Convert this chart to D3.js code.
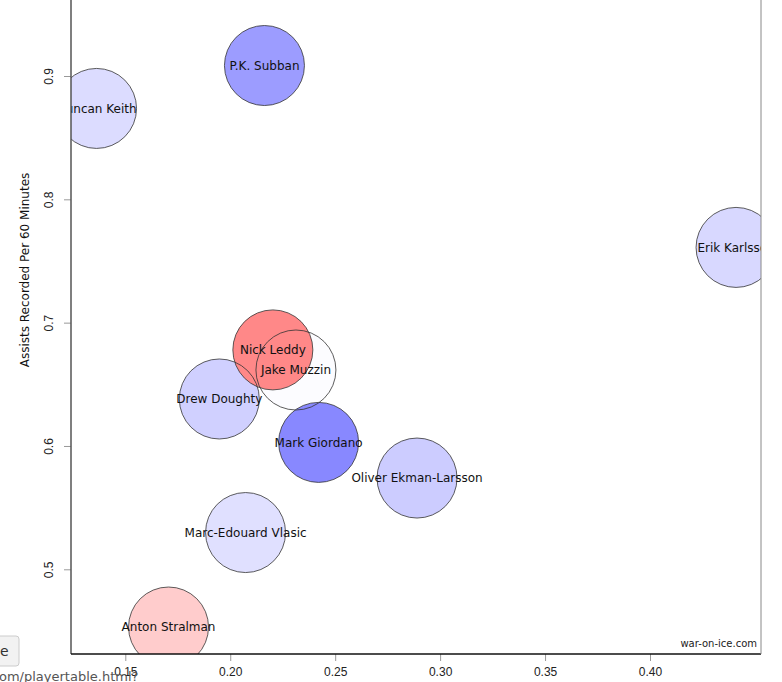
<!DOCTYPE html>
<html lang="en">
<head>
    <meta charset="UTF-8">
    <title>Assists per 60 bubble chart</title>
    <script src="https://d3js.org/d3.v7.min.js"></script>
    <style>
        body { margin: 0; background: #fff; }
        svg { display: block; font-family: "DejaVu Sans", sans-serif; }
        .tick text { font-size: 12px; fill: #222; }
        .tick line { stroke: #999; }
        .label { font-size: 12px; fill: #111; }
    </style>
</head>
<body>
    <svg width="782" height="682"></svg>
    <script>
        const width = 782, height = 682;

        // players, x values (unlabelled x metric), assists per 60 and bubble colours
        const players = ["Duncan Keith", "P.K. Subban", "Erik Karlsson", "Jake Muzzin", "Drew Doughty",
                         "Nick Leddy", "Mark Giordano", "Oliver Ekman-Larsson", "Marc-Edouard Vlasic", "Anton Stralman"];
        const xValues = [0.1363, 0.2163, 0.4410, 0.2313, 0.1948, 0.2203, 0.2421, 0.2890, 0.2073, 0.1706];
        const assists60 = [0.8737, 0.9085, 0.7610, 0.6616, 0.6381, 0.6779, 0.6029, 0.5740, 0.5298, 0.4532];
        const fills = ["#dcdcff", "#9c9cff", "#d8d8ff", "#fcfcff", "#d0d0ff",
                       "#ff8888", "#8888ff", "#ccccff", "#e0e0ff", "#ffcccc"];
        const xTicks = [0.15, 0.20, 0.25, 0.30, 0.35, 0.40];
        const yTicks = [0.5, 0.6, 0.7, 0.8, 0.9];

        const data = players.map((name, i) => ({ name, x: xValues[i], y: assists60[i], fill: fills[i] }));

        const plotLeft = 71, plotRight = 761, plotBottom = 654, plotTop = 0;
        const svg = d3.select("svg");

        const x = d3.scaleLinear().domain([0.15, 0.40]).range([125.3, 650]);
        const y = d3.scaleLinear().domain([0.5, 0.9]).range([569.3, 76]);
        const r = 40;

        svg.append("clipPath").attr("id", "plot")
            .append("rect").attr("x", plotLeft).attr("y", plotTop)
            .attr("width", plotRight - plotLeft).attr("height", plotBottom - plotTop);

        const plot = svg.append("g").attr("clip-path", "url(#plot)");

        // fills first, then outlines and names on top (as in the original)
        plot.append("g").selectAll("circle").data(data).enter().append("circle")
            .attr("cx", d => x(d.x)).attr("cy", d => y(d.y)).attr("r", r)
            .attr("fill", d => d.fill);
        plot.append("g").selectAll("circle").data(data).enter().append("circle")
            .attr("cx", d => x(d.x)).attr("cy", d => y(d.y)).attr("r", r)
            .attr("fill", "none").attr("stroke", "#333").attr("stroke-width", 0.8);
        plot.append("g").selectAll("text").data(data).enter().append("text")
            .attr("class", "label")
            .attr("x", d => x(d.x)).attr("y", d => y(d.y))
            .attr("dy", "0.35em").attr("text-anchor", "middle")
            .text(d => d.name);

        // axes
        const xAxis = d3.axisBottom(x).tickValues(xTicks).tickSize(7).tickPadding(6).tickFormat(d3.format(".2f"));
        const gx = svg.append("g").attr("transform", `translate(0,${plotBottom})`).call(xAxis);
        gx.select(".domain").remove();

        const yAxis = d3.axisLeft(y).tickValues(yTicks).tickSize(7).tickFormat(d3.format(".1f"));
        const gy = svg.append("g").attr("transform", `translate(${plotLeft},0)`).call(yAxis);
        gy.select(".domain").remove();
        gy.selectAll(".tick text")
            .attr("x", null).attr("y", 0).attr("dy", "0.35em")
            .attr("text-anchor", "middle")
            .attr("transform", "translate(-22,0) rotate(-90)");

        svg.append("line").attr("x1", plotLeft).attr("x2", plotLeft).attr("y1", plotTop).attr("y2", plotBottom)
            .attr("stroke", "#555").attr("stroke-width", 1.5);
        svg.append("line").attr("x1", plotLeft).attr("x2", plotRight).attr("y1", plotBottom).attr("y2", plotBottom)
            .attr("stroke", "#111").attr("stroke-width", 1.5);
        svg.append("line").attr("x1", plotRight).attr("x2", plotRight).attr("y1", plotTop).attr("y2", plotBottom)
            .attr("stroke", "#888").attr("stroke-width", 1);

        svg.append("text")
            .attr("transform", `translate(25,270) rotate(-90)`)
            .attr("text-anchor", "middle").attr("dy", "0.35em")
            .style("font-size", "12px").style("fill", "#111")
            .text("Assists Recorded Per 60 Minutes");

        svg.append("text")
            .attr("x", 757).attr("y", 647).attr("text-anchor", "end")
            .style("font-size", "10px").style("fill", "#222")
            .text("war-on-ice.com");

        // bits of the surrounding page that sit over the chart
        svg.append("rect").attr("x", -10).attr("y", 636).attr("width", 29).attr("height", 30)
            .attr("rx", 3).attr("fill", "#f2f2f2").attr("stroke", "#ccc");
        svg.append("text").attr("x", 0).attr("y", 656)
            .style("font-size", "14px").style("fill", "#333").text("e");
        svg.append("text").attr("x", -1).attr("y", 681)
            .style("font-size", "13px").style("fill", "#555").text("om/playertable.html?");
    </script>
</body>
</html>
